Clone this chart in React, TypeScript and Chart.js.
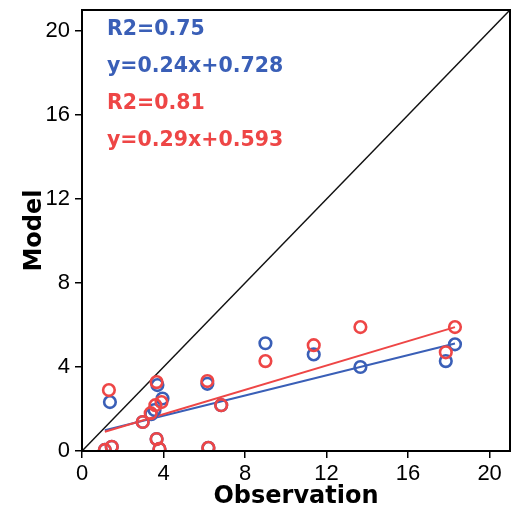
import React, { useEffect, useRef } from "react";
import { Chart, registerables } from "chart.js";
Chart.register(...registerables);

// Observed / modelled values, blue series
const blueObs = [1.12, 1.46, 1.37, 2.98, 3.4, 3.56, 3.66, 3.7, 3.8, 3.95, 6.15, 6.2, 6.83, 9.0, 11.37, 13.66, 17.85, 18.3];
const blueMod = [0.05, 0.2, 2.33, 1.38, 1.75, 1.95, 0.57, 3.14, 0.1, 2.5, 3.2, 0.15, 2.18, 5.13, 4.6, 4.0, 4.28, 5.08];
// red series
const redObs = [1.12, 1.46, 1.32, 2.98, 3.37, 3.6, 3.66, 3.66, 3.8, 3.9, 6.15, 6.2, 6.83, 9.0, 11.37, 13.66, 17.85, 18.3];
const redMod = [0.05, 0.2, 2.9, 1.38, 1.8, 2.18, 0.57, 3.28, 0.1, 2.33, 3.33, 0.15, 2.18, 4.28, 5.04, 5.9, 4.7, 5.9];
// fit line end points
const blueFitX = [1.12, 18.3];
const blueFitY = [0.99, 5.12];
const redFitX = [1.12, 18.3];
const redFitY = [0.92, 5.9];
// 1:1 line
const diagX = [0, 21];
const diagY = [0, 21];
const axisMin = 0;
const axisMax = 21;
const tickStep = 4;
const annotations = [
  { text: "R2=0.75", series: "blue" },
  { text: "y=0.24x+0.728", series: "blue" },
  { text: "R2=0.81", series: "red" },
  { text: "y=0.29x+0.593", series: "red" },
];

const BLUE = "#3a5fb7";
const RED = "#ee4646";
const TICK_FONT = "'Liberation Sans', sans-serif";

const zip = (xs: number[], ys: number[]) => xs.map((x, i) => ({ x, y: ys[i] }));

export default function App() {
  const ref = useRef<HTMLCanvasElement | null>(null);
  useEffect(() => {
    if (!ref.current) return;
    const annotationPlugin = {
      id: "annot",
      afterDraw(chart: any) {
        const { ctx, chartArea } = chart;
        ctx.save();
        ctx.strokeStyle = "#000";
        ctx.lineWidth = 2;
        ctx.strokeRect(chartArea.left, chartArea.top, chartArea.right - chartArea.left, chartArea.bottom - chartArea.top);
        ctx.font = "bold 20.5px 'DejaVu Sans'";
        ctx.textBaseline = "middle";
        ctx.textAlign = "left";
        annotations.forEach((a, i) => {
          ctx.fillStyle = a.series === "blue" ? BLUE : RED;
          ctx.fillText(a.text, chartArea.left + 25, chartArea.top + 20 + i * 37);
        });
        ctx.restore();
      },
    };
    const pointStyle = (c: string) => ({
      type: "scatter" as const,
      borderColor: c,
      backgroundColor: "rgba(0,0,0,0)",
      pointRadius: 5.8,
      pointBorderWidth: 2.6,
      showLine: false,
    });
    const lineStyle = (c: string, w: number) => ({
      type: "line" as const,
      borderColor: c,
      borderWidth: w,
      pointRadius: 0,
      fill: false,
    });
    const chart = new Chart(ref.current, {
      type: "scatter",
      data: {
        datasets: [
          { ...pointStyle(RED), data: zip(redObs, redMod) },
          { ...pointStyle(BLUE), data: zip(blueObs, blueMod) },
          { ...lineStyle(RED, 2), data: zip(redFitX, redFitY) },
          { ...lineStyle(BLUE, 2), data: zip(blueFitX, blueFitY) },
          { ...lineStyle("#111", 1.5), data: zip(diagX, diagY) },
        ] as any,
      },
      options: {
        animation: false,
        responsive: true,
        maintainAspectRatio: false,
        layout: { padding: { top: 10, right: 10, left: 0, bottom: 0 } },
        plugins: { legend: { display: false }, tooltip: { enabled: false } },
        scales: {
          x: {
            type: "linear",
            min: axisMin,
            max: axisMax,
            afterFit: (s: any) => { s.height = 60; s.paddingLeft = 0; s.paddingRight = 0; },
            ticks: { stepSize: tickStep, includeBounds: false, color: "#000", font: { family: TICK_FONT, size: 22 }, padding: 3, maxRotation: 0 },
            grid: { display: true, drawOnChartArea: false, drawTicks: true, tickLength: 7, color: "#000", lineWidth: 1.5 },
            border: { display: true, color: "#000", width: 2 },
            title: { display: true, text: "Observation", color: "#000", font: { family: "'DejaVu Sans'", size: 24, weight: "bold" }, padding: { top: 0, bottom: 0 } },
          },
          y: {
            type: "linear",
            min: axisMin,
            max: axisMax,
            afterFit: (s: any) => { s.width = 82; s.paddingTop = 0; s.paddingBottom = 0; },
            ticks: { stepSize: tickStep, includeBounds: false, color: "#000", font: { family: TICK_FONT, size: 22 }, padding: 5 },
            grid: { display: true, drawOnChartArea: false, drawTicks: true, tickLength: 7, color: "#000", lineWidth: 1.5 },
            border: { display: true, color: "#000", width: 2 },
            title: { display: true, text: "Model", color: "#000", font: { family: "'DejaVu Sans'", size: 24, weight: "bold" }, padding: { top: 20, bottom: 0 } },
          },
        },
      } as any,
      plugins: [annotationPlugin],
    });
    return () => chart.destroy();
  }, []);
  return (
    <div style={{ position: "fixed", left: 0, top: 0, width: 520, height: 511, background: "#fff" }}>
      <canvas ref={ref} />
    </div>
  );
}
